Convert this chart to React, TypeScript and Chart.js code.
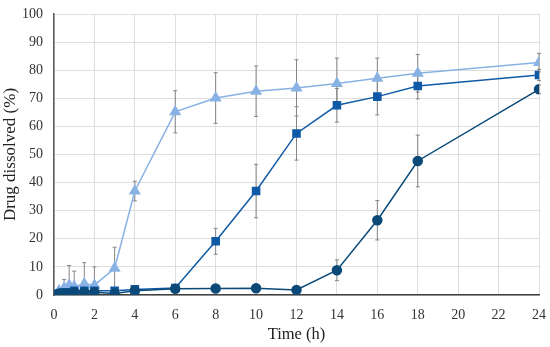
import React, { useEffect, useRef } from "react";
import { Chart, registerables } from "chart.js";

Chart.register(...registerables);

const times = [0, 0.25, 0.5, 0.75, 1, 1.5, 2, 3, 4, 6, 8, 10, 12, 14, 16, 18, 24];
const triangleValues = [0, 1.5, 2.5, 3.5, 3, 4, 3.5, 9.5, 37, 65.2, 70.1, 72.5, 73.7, 75.3, 77.1, 78.9, 82.7];
const triangleErrors = [0, 0.5, 3, 7, 5.5, 7.5, 6.5, 7.5, 3.5, 7.5, 9, 9, 10, 9, 7.2, 6.7, 3.3];
const squareValues = [0, 0.5, 1, 1, 1.5, 1.5, 1.5, 1.5, 2, 2.5, 19.1, 37, 57.5, 67.5, 70.6, 74.4, 78.3];
const squareErrors = [0, 0, 0.3, 0.3, 0.3, 0.3, 0.3, 0.3, 0.5, 0.5, 4.6, 9.5, 9.5, 6, 6.5, 4.6, 2];
const circleValues = [0, 0.5, 0.5, 0.5, 1, 1, 1, 0.5, 1.5, 2.2, 2.3, 2.4, 1.8, 8.8, 26.6, 47.7, 73.2];
const circleErrors = [0, 0, 0.2, 0.2, 0.2, 0.2, 0.2, 0.2, 0.3, 0.3, 0.3, 0.3, 0.3, 3.7, 7, 9.2, 1.5];

const FONT = "'Liberation Serif', serif";

const errorBarPlugin = {
  id: "errorBars",
  beforeDatasetsDraw(chart: any) {
    const ctx = chart.ctx;
    const x = chart.scales.x;
    const y = chart.scales.y;
    const area = chart.chartArea;
    ctx.save();
    ctx.beginPath();
    ctx.rect(area.left - 5, area.top - 5, area.right - area.left + 10, area.bottom - area.top + 5);
    ctx.clip();
    ctx.strokeStyle = "#858585";
    ctx.lineWidth = 1;
    chart.data.datasets.forEach((ds: any) => {
      const errs: number[] = ds.errors || [];
      ds.data.forEach((p: any, i: number) => {
        const e = errs[i];
        if (!e) return;
        const px = x.getPixelForValue(p.x);
        const top = y.getPixelForValue(p.y + e);
        const bot = y.getPixelForValue(p.y - e);
        ctx.beginPath();
        ctx.moveTo(px, top);
        ctx.lineTo(px, bot);
        ctx.moveTo(px - 2, top);
        ctx.lineTo(px + 2, top);
        ctx.moveTo(px - 2, bot);
        ctx.lineTo(px + 2, bot);
        ctx.stroke();
      });
    });
    ctx.restore();
  },
};

function toPoints(vals: number[]) {
  return times.map((t, i) => ({ x: t, y: vals[i] }));
}

export default function App() {
  const ref = useRef<HTMLCanvasElement>(null);
  useEffect(() => {
    document.body.style.margin = "0";
    const chart = new Chart(ref.current!, {
      type: "line",
      data: {
        datasets: [
          {
            label: "circle",
            data: toPoints(circleValues),
            errors: circleErrors,
            borderColor: "#0b4a78",
            backgroundColor: "#0b4a78",
            pointStyle: "circle",
            pointRadius: 4.5,
            borderWidth: 1.5,
          } as any,
          {
            label: "square",
            data: toPoints(squareValues),
            errors: squareErrors,
            borderColor: "#0f5aa6",
            backgroundColor: "#0f5aa6",
            pointStyle: "rect",
            pointRadius: 5,
            borderWidth: 1.5,
          } as any,
          {
            label: "triangle",
            data: toPoints(triangleValues),
            errors: triangleErrors,
            borderColor: "#89b2e4",
            backgroundColor: "#89b2e4",
            pointStyle: "triangle",
            pointRadius: 5.5,
            borderWidth: 1.5,
          } as any,
        ],
      },
      options: {
        animation: false,
        responsive: false,
        layout: { padding: { top: 14, right: 11, left: 0, bottom: 0 } },
        plugins: { legend: { display: false }, tooltip: { enabled: false } },
        scales: {
          x: {
            type: "linear",
            min: 0,
            max: 24,
            ticks: { stepSize: 2, color: "#333", font: { family: FONT, size: 14 }, padding: 12 },
            grid: { color: "#dedede", drawTicks: false },
            border: { color: "#404040", width: 1.5 },
            title: { display: true, text: "Time (h)", color: "#222", font: { family: FONT, size: 16.5 }, padding: { top: 2, bottom: 2 } },
            afterFit(s: any) { s.height = 52; s.paddingLeft = 0; s.paddingRight = 0; },
          },
          y: {
            min: 0,
            max: 100,
            ticks: { stepSize: 10, color: "#333", font: { family: FONT, size: 14 }, padding: 11 },
            grid: { color: "#dedede", drawTicks: false },
            border: { color: "#595959", width: 1.5 },
            title: { display: true, text: "Drug dissolved (%)", color: "#222", font: { family: FONT, size: 17 }, padding: { top: 0, bottom: 0 } },
            afterFit(s: any) { s.width = 54; s.paddingTop = 0; s.paddingBottom = 0; },
          },
        },
      } as any,
      plugins: [errorBarPlugin],
    });
    return () => chart.destroy();
  }, []);
  return (
    <div style={{ position: "relative", width: 550, height: 347 }}>
      <canvas ref={ref} width={550} height={347} style={{ display: "block" }} />
    </div>
  );
}
